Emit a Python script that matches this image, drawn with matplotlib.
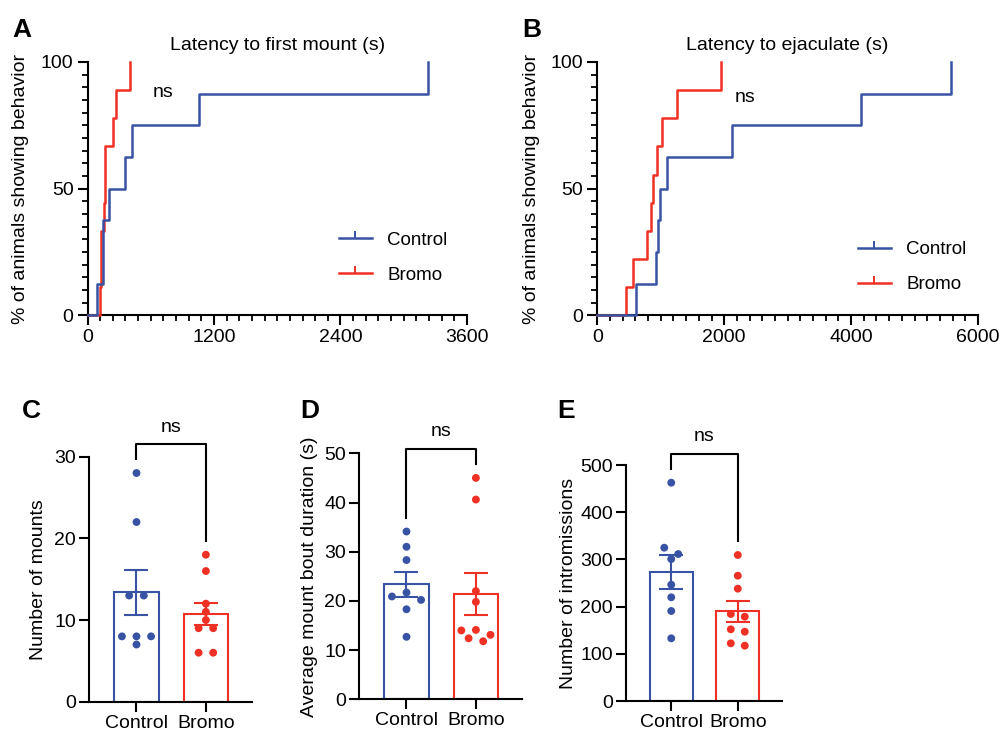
import numpy as np
import matplotlib
matplotlib.use('Agg')
import matplotlib.pyplot as plt
from matplotlib.ticker import MultipleLocator
from matplotlib.lines import Line2D

plt.rcParams['font.family'] = ['Liberation Sans', 'DejaVu Sans']

# ---------------- data ----------------
groups = ['Control', 'Bromo']
# latencies (s) of each animal (Kaplan-Meier style cumulative curves)
mount_latency_control = [88, 145, 145, 208, 357, 426, 1061, 3230]
mount_latency_bromo = [114, 126, 126, 152, 164, 164, 246, 272, 404]
ejac_latency_control = [605, 926, 953, 990, 1095, 2121, 4158, 5579]
ejac_latency_bromo = [447, 568, 789, 848, 884, 937, 1016, 1253, 1953]
# individual values
mounts_control = [28, 22, 13, 13, 8, 8, 8, 7]
mounts_bromo = [18, 16, 12, 11, 10, 9, 9, 6, 6]
bout_control = [34.1, 31.0, 28.3, 21.7, 20.9, 20.2, 18.3, 12.7]
bout_bromo = [45.0, 40.6, 22.0, 19.8, 14.1, 14.0, 13.1, 12.4, 11.8]
intro_control = [462.5, 324.8, 311.4, 300.8, 246.4, 219.7, 190.7, 132.8]
intro_bromo = [309.3, 265.5, 238.0, 184.3, 178.6, 151.9, 146.8, 122.2, 117.2]

BLUE = '#3853A4'
RED = '#EE3124'
COLORS = [BLUE, RED]

W, H = 1001, 734
fig = plt.figure(figsize=(W / 100, H / 100), dpi=100)


def rect(l, r, t, b):
    return [l / W, 1 - b / H, (r - l) / W, (b - t) / H]


def style_axes(ax, ticklen=7.5, labelsize=14):
    for s in ['top', 'right']:
        ax.spines[s].set_visible(False)
    for s in ['left', 'bottom']:
        ax.spines[s].set_linewidth(1.5)
    ax.tick_params(which='major', direction='out', length=ticklen, width=1.5,
                   labelsize=labelsize, pad=2.5)
    ax.tick_params(which='minor', direction='out', length=4.5, width=1.3)


def km(ax, times, color, z):
    t = np.sort(np.asarray(times, float))
    n = len(t)
    x = np.concatenate([[0], t])
    y = np.concatenate([[0], 100.0 * np.arange(1, n + 1) / n])
    ax.step(x, y, where='post', color=color, lw=1.8, clip_on=False, zorder=z)


def km_panel(ax, ctrl, bromo, xmax, xmajor, xminor, title, ns_xy, leg_xy, ylab_x):
    style_axes(ax)
    km(ax, bromo, RED, 3)
    km(ax, ctrl, BLUE, 4)
    ax.set_xlim(0, xmax)
    ax.set_ylim(0, 100)
    ax.xaxis.set_major_locator(MultipleLocator(xmajor))
    ax.xaxis.set_minor_locator(MultipleLocator(xminor))
    ax.yaxis.set_major_locator(MultipleLocator(50))
    ax.yaxis.set_minor_locator(MultipleLocator(5))
    ax.set_title(title, fontsize=14, pad=9)
    ax.text(ns_xy[0], ns_xy[1], 'ns', transform=ax.transAxes, fontsize=14,
            ha='center', va='center')
    ax.set_ylabel('% of animals showing behavior', fontsize=14)
    ax.yaxis.set_label_coords(ylab_x, 0.5)
    handles = [Line2D([], [], color=c, lw=1.8, marker=2, markersize=5,
                      markeredgewidth=1.4) for c in COLORS]
    ax.legend(handles, groups, loc='upper left', bbox_to_anchor=leg_xy,
              frameon=False, fontsize=13.5, numpoints=1, handlelength=1.75,
              handletextpad=0.85, labelspacing=0.95, borderpad=0,
              borderaxespad=0)


def swarm_offsets(vals, ppu, row_h=8.0, step=0.21):
    vals = np.asarray(vals, float)
    order = np.argsort(-vals, kind='stable')
    rows = []
    for i in order:
        ypx = vals[i] * ppu
        if rows and rows[-1][0] - ypx < row_h:
            rows[-1][1].append(i)
        else:
            rows.append([ypx, [i]])
    off = np.zeros(len(vals))
    for _, idx in rows:
        k = len(idx)
        if k % 2:
            pat = [0.0]
            for j in range(1, k // 2 + 1):
                pat += [-j, j]
        else:
            pat = []
            for j in range(k // 2):
                pat += [-(j + 0.5), j + 0.5]
        for i, p in zip(idx, pat):
            off[i] = p * step
    return off


def bar_panel(ax, ctrl, bromo, ymax, ystep, ylabel, ylab_x):
    style_axes(ax, ticklen=7, labelsize=14)
    ax.set_xlim(-0.68, 1.66)
    ax.set_ylim(0, ymax)
    ax.yaxis.set_major_locator(MultipleLocator(ystep))
    ax.set_xticks([0, 1])
    ax.set_xticklabels(groups, fontsize=14)
    ax.set_ylabel(ylabel, fontsize=14)
    ax.yaxis.set_label_coords(ylab_x, 0.5)
    p0 = ax.transData.transform((0, 0))[1]
    p1 = ax.transData.transform((0, 1))[1]
    ppu = p1 - p0
    data = [np.asarray(ctrl, float), np.asarray(bromo, float)]
    for i, (vals, col) in enumerate(zip(data, COLORS)):
        m = vals.mean()
        sem = vals.std(ddof=1) / np.sqrt(len(vals))
        ax.bar(i, m, width=0.64, facecolor='white', edgecolor=col, lw=1.5,
               zorder=1)
        off = swarm_offsets(vals, ppu)
        ax.scatter(i + off, vals, s=32, color=col, edgecolor='none', zorder=3,
                   clip_on=False)
        ax.errorbar(i, m, yerr=sem, color=col, capsize=8.5, elinewidth=1.5,
                    capthick=1.5, zorder=4)
    # significance bracket
    top = max(d.max() for d in data) + 29 / ppu
    legs = [d.max() + 14 / ppu for d in data]
    ax.plot([0, 0, 1, 1], [legs[0], top, top, legs[1]], color='black', lw=1.5,
            clip_on=False, zorder=5)
    ax.text(0.5, top + 17 / ppu, 'ns', fontsize=14, ha='center', va='center')


axA = fig.add_axes(rect(87.5, 467, 62, 315.3))
km_panel(axA, mount_latency_control, mount_latency_bromo, 3600, 1200, 120,
         'Latency to first mount (s)', (0.2, 0.88), (0.662, 0.33), -0.155)

axB = fig.add_axes(rect(597.3, 978, 62, 315.3))
km_panel(axB, ejac_latency_control, ejac_latency_bromo, 6000, 2000, 200,
         'Latency to ejaculate (s)', (0.388, 0.86), (0.684, 0.293), -0.15)

axC = fig.add_axes(rect(89.3, 251.7, 456.7, 701.7))
bar_panel(axC, mounts_control, mounts_bromo, 30, 10, 'Number of mounts', -0.26)

axD = fig.add_axes(rect(359.3, 521.7, 453.3, 699.3))
bar_panel(axD, bout_control, bout_bromo, 50, 10,
          'Average mount bout duration (s)', -0.255)

axE = fig.add_axes(rect(626, 781.7, 465, 701))
bar_panel(axE, intro_control, intro_bromo, 500, 100,
          'Number of intromissions', -0.315)

for letter, x, y in [('A', 12, 37), ('B', 522, 37), ('C', 22, 418),
                     ('D', 300, 418), ('E', 557, 418)]:
    fig.text(x / W, 1 - y / H, letter, fontsize=19, fontweight='bold',
             ha='left', va='baseline')

fig.savefig('out.png', dpi=100)
